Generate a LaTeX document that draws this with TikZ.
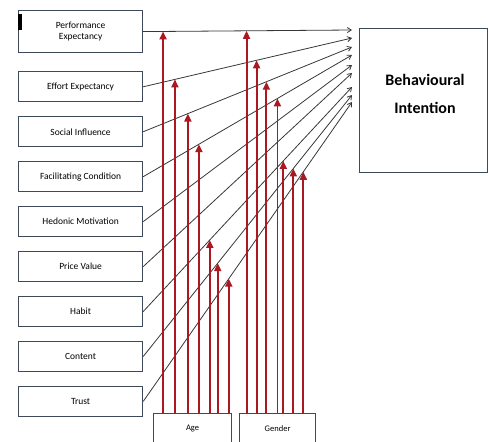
\documentclass[tikz,border=0pt]{standalone}
\usepackage{fontspec}
\setmainfont{Carlito}
\usetikzlibrary{arrows.meta, positioning, calc}
\definecolor{boxgray}{RGB}{62,74,90}
\definecolor{linegray}{RGB}{55,55,55}
\definecolor{modred}{RGB}{170,24,34}

\begin{document}
\begin{tikzpicture}[
      x=1pt, y=-1pt,
      node distance=13.75pt,
      every node/.style={font=\fontsize{9.5}{11}\selectfont},
      factor/.style={
        rectangle, draw=boxgray, line width=1.2pt, fill=white,
        minimum width=124pt, minimum height=30pt,
        inner sep=2pt, align=center
      },
      modbox/.style={factor, minimum width=78pt, anchor=north west, font=\fontsize{8.5}{10}\selectfont},
      link/.style={-{Straight Barb[length=4pt, width=5pt]}, line width=0.8pt, draw=linegray},
      moder/.style={-{Triangle[length=8pt, width=7pt]}, line width=1.9pt, draw=modred}
    ]
      \useasboundingbox (0,0) rectangle (489,441);
      % constructs on the left
      \node[factor, minimum height=42pt, anchor=north west] (pe) at (18,10) {Performance\\Expectancy};
      \node[factor, below=18pt of pe] (ee) {Effort Expectancy};
      \node[factor, below=of ee] (si) {Social Influence};
      \node[factor, below=of si] (fc) {Facilitating Condition};
      \node[factor, below=of fc] (hm) {Hedonic Motivation};
      \node[factor, below=of hm] (pv) {Price Value};
      \node[factor, below=of pv] (ha) {Habit};
      \node[factor, below=of ha] (co) {Content};
      \node[factor, below=of co] (tr) {Trust};
      \fill[black] ([shift={(0,4)}]pe.north west) rectangle ++(4,16);
      % outcome
      \node[factor, minimum width=128pt, minimum height=144pt, anchor=north west] (bi) at (359,28) {};
      \node[font=\fontsize{16}{28}\selectfont\bfseries, align=center] (bit) at (425,94) {Behavioural\\Intention};
      % moderators
      \node[modbox] (age) at (153,413) {Age};
      \node[modbox, minimum width=76pt] (gen) at (239,413) {Gender};
      % paths into the outcome
      \foreach \src/\y [count=\i] in {pe/30, ee/38, si/47, fc/55, hm/65, pv/73, ha/87, co/95, tr/102} {
        \coordinate (end\i) at (352,\y);
        \draw[link] (\src.east) -- (end\i);
      }
      % moderating arrows
      \foreach \src/\n/\pa/\pg in {pe/1/0.095/0.495, ee/2/0.152/0.543, si/3/0.214/0.59,
          fc/4/0.267/0.643, ha/7/0.319/0.671, co/8/0.357/0.719, tr/9/0.41/0.767} {
        \coordinate (ma\n) at ($(\src.east)!\pa!(end\n)$);
        \coordinate (mg\n) at ($(\src.east)!\pg!(end\n)$);
        \draw[moder] (ma\n |- age.north) -- (ma\n);
        \draw[moder] (mg\n |- gen.north) -- (mg\n);
      }
    \end{tikzpicture}
\end{document}
